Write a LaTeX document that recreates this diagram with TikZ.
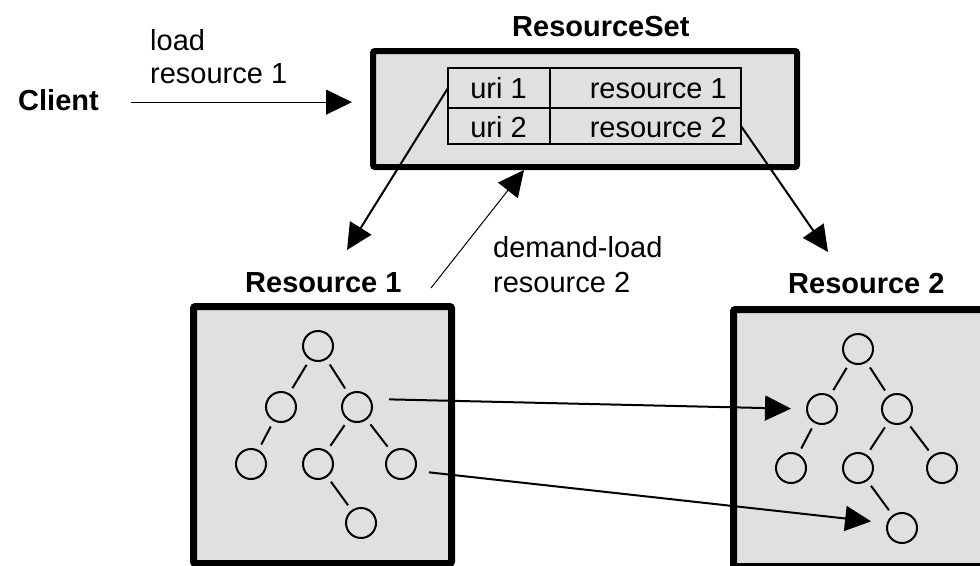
\documentclass[tikz,border=0pt]{standalone}
\usepackage{fontspec}
\setmainfont{Liberation Sans}
\usetikzlibrary{arrows.meta,calc}
\definecolor{panel}{RGB}{224,224,224}
\tikzset{
  lbl/.style={font=\fontsize{29}{34}\selectfont, inner sep=0pt},
  ttl/.style={font=\fontsize{29}{34}\selectfont\bfseries, inner sep=0pt},
  tiphead/.style={-{Triangle[length=26pt,width=25pt]}},
  thinarrow/.style={tiphead, line width=1pt},
  midarrow/.style={tiphead, line width=2pt},
  panelbox/.style={draw, fill=panel, line width=7pt, rounded corners=2pt, outer sep=0pt, inner sep=0pt, anchor=north west},
  cell/.style={draw, line width=1.5pt, outer sep=0pt, inner sep=0pt, anchor=north west},
  vert/.style={circle, draw, line width=2pt, minimum size=30pt, inner sep=0pt},
  branch/.style={line width=2pt, shorten <=6pt, shorten >=6pt},
}
\begin{document}
\begin{tikzpicture}[x=1pt,y=-1pt]
\useasboundingbox (0,0) rectangle (980,565);

% panels
\node[panelbox, line width=6pt, minimum width=424pt, minimum height=116pt] (rs) at (373,51) {};
\node[panelbox, minimum width=258pt, minimum height=257pt] (res1) at (193.5,306.5) {};
\node[panelbox, minimum width=252pt, minimum height=257pt] (res2) at (733.5,309.5) {};

% titles
\node[ttl, anchor=base west] (rstitle) at (512,36) {ResourceSet};
\node[ttl, anchor=base west] (res1title) at (245,292) {Resource 1};
\node[ttl, anchor=base west] (res2title) at (788,293) {Resource 2};
\node[ttl, anchor=base west] (client) at (18,110) {Client};

% uri table
\node[cell, minimum width=102pt, minimum height=40pt] (u1) at (448,68) {};
\node[cell, minimum width=191pt, minimum height=40pt] (r1) at (550,68) {};
\node[cell, minimum width=102pt, minimum height=36pt] (u2) at (448,108) {};
\node[cell, minimum width=191pt, minimum height=36pt] (r2) at (550,108) {};
\node[lbl, anchor=base] (u1txt) at (498.5,98) {uri 1};
\node[lbl, anchor=base] (u2txt) at (498.5,137) {uri 2};
\node[lbl, anchor=base east] (r1txt) at (727,98) {resource 1};
\node[lbl, anchor=base east] (r2txt) at (727,137) {resource 2};

% labels
\node[lbl, anchor=base west] (load1) at (150,50) {load};
\node[lbl, anchor=base west] (load2) at (150,83) {resource 1};
\node[lbl, anchor=base west] (dem1) at (493,257) {demand-load};
\node[lbl, anchor=base west] (dem2) at (493,292) {resource 2};

% tree in Resource 1
\node[vert] (a0) at (318,346) {};
\node[vert] (a1) at (281,407) {};
\node[vert] (a2) at (357,407) {};
\node[vert] (a3) at (251,464) {};
\node[vert] (a4) at (318,464) {};
\node[vert] (a5) at (401,464) {};
\node[vert] (a6) at (361,523) {};
\draw[branch] (a0) -- (a1);
\draw[branch] (a0) -- (a2);
\draw[branch] (a1) -- (a3);
\draw[branch] (a2) -- (a4);
\draw[branch] (a2) -- (a5);
\draw[branch] (a4) -- (a6);

% tree in Resource 2
\node[vert] (b0) at (858,349) {};
\node[vert] (b1) at (822,409) {};
\node[vert] (b2) at (897,409) {};
\node[vert] (b3) at (791,468) {};
\node[vert] (b4) at (858,468) {};
\node[vert] (b5) at (942,468) {};
\node[vert] (b6) at (902,528) {};
\draw[branch] (b0) -- (b1);
\draw[branch] (b0) -- (b2);
\draw[branch] (b1) -- (b3);
\draw[branch] (b2) -- (b4);
\draw[branch] (b2) -- (b5);
\draw[branch] (b4) -- (b6);

% connectors
\coordinate (tipA) at (347,250);
\coordinate (tipB) at (828,252);
\coordinate (demtail) at (431,288);
\coordinate (demtip) at (524,170);

\draw[thinarrow, shorten <=32pt, shorten >=21pt]
  ($(client.east)+(0,2.5)$) -- ($(client.east -| rs.west)+(0,2.5)$);
\draw[midarrow] (u1.west) -- (tipA);
\draw[midarrow] (r2.east) -- (tipB);
\draw[thinarrow] (demtail) -- (demtip);
\draw[midarrow, shorten <=16pt, shorten >=15pt] ($(a2.east)+(0,-8)$) -- (b1.west);
\draw[midarrow, shorten <=12pt, shorten >=15pt] ($(a5.east)+(0,7)$) -- ($(b6.west)+(0,-5)$);
\end{tikzpicture}
\end{document}
